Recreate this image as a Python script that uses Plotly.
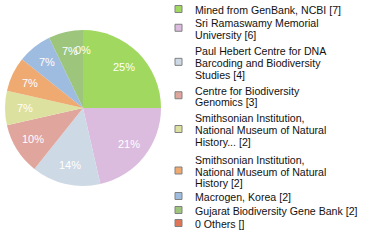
import math
import plotly.graph_objects as go

# ---- data ----
labels = [
    "Mined from GenBank, NCBI",
    "Sri Ramaswamy Memorial University",
    "Paul Hebert Centre for DNA Barcoding and Biodiversity Studies",
    "Centre for Biodiversity Genomics",
    "Smithsonian Institution, National Museum of Natural History...",
    "Smithsonian Institution, National Museum of Natural History",
    "Macrogen, Korea",
    "Gujarat Biodiversity Gene Bank",
    "0 Others",
]
values = [7, 6, 4, 3, 2, 2, 2, 2, 0]
legend_text = [
    ["Mined from GenBank, NCBI [7]"],
    ["Sri Ramaswamy Memorial", "University [6]"],
    ["Paul Hebert Centre for DNA", "Barcoding and Biodiversity", "Studies [4]"],
    ["Centre for Biodiversity", "Genomics [3]"],
    ["Smithsonian Institution,", "National Museum of Natural", "History... [2]"],
    ["Smithsonian Institution,", "National Museum of Natural", "History [2]"],
    ["Macrogen, Korea [2]"],
    ["Gujarat Biodiversity Gene Bank [2]"],
    ["0 Others []"],
]
colors = ["#a0d860", "#dbbcdf", "#cdd9e4", "#e0a59c", "#dde19f",
          "#eeaa70", "#9ebce0", "#9dc57c", "#df7457"]

# ---- layout constants (pixels) ----
W, H = 380, 240
CX, CY, R = 83, 108, 78          # pie centre / radius in pixels
LABEL_R = 0.75                   # label radius as fraction of R
line_y = [
    [10],
    [23, 34.5],
    [51, 63, 74.5],
    [90.5, 102],
    [118, 130, 142],
    [160, 171.5, 183],
    [197],
    [211],
    [224],
]
FONT = "Liberation Sans, Arial, sans-serif"

total = sum(values)
pct_text = [f"{int(math.floor(v * 100.0 / total))}%" for v in values]

fig = go.Figure()
fig.add_trace(go.Pie(
    labels=labels,
    values=values,
    textinfo="none",
    marker=dict(colors=colors, line=dict(width=0)),
    sort=False,
    direction="clockwise",
    rotation=0,
    showlegend=False,
    hoverinfo="label+value+percent",
    domain=dict(x=[(CX - R) / W, (CX + R) / W],
                y=[(H - CY - R) / H, (H - CY + R) / H]),
))

shapes = []
annotations = []

# percentage labels at the mid-angle of each slice (clockwise from 12 o'clock)
cum = 0.0
for v, t in zip(values, pct_text):
    mid = (cum + v / 2.0) / total * 2 * math.pi
    cum += v
    px = CX + LABEL_R * R * math.sin(mid)
    py = CY - LABEL_R * R * math.cos(mid)
    annotations.append(dict(
        x=px / W, y=(H - py) / H, xref="paper", yref="paper",
        xanchor="center", yanchor="middle", showarrow=False,
        text=t, font=dict(size=11, color="white", family=FONT),
    ))

# legend
for i, lines in enumerate(legend_text):
    ys = line_y[i]
    bc = sum(ys) / len(ys) - 1
    shapes.append(dict(
        type="rect", xref="paper", yref="paper",
        x0=175 / W, x1=182 / W,
        y0=(H - (bc + 3.5)) / H, y1=(H - (bc - 3.5)) / H,
        fillcolor=colors[i], line=dict(color="#808080", width=1),
    ))
    for j, t in enumerate(lines):
        annotations.append(dict(
            x=193 / W, y=(H - ys[j]) / H, xref="paper", yref="paper",
            xanchor="left", yanchor="middle", showarrow=False,
            text=t, font=dict(size=10.6, color="#111111", family=FONT),
        ))

fig.update_layout(
    width=W, height=H,
    margin=dict(l=0, r=0, t=0, b=0),
    paper_bgcolor="white", plot_bgcolor="white",
    shapes=shapes, annotations=annotations,
)
fig.write_html("out.html")
